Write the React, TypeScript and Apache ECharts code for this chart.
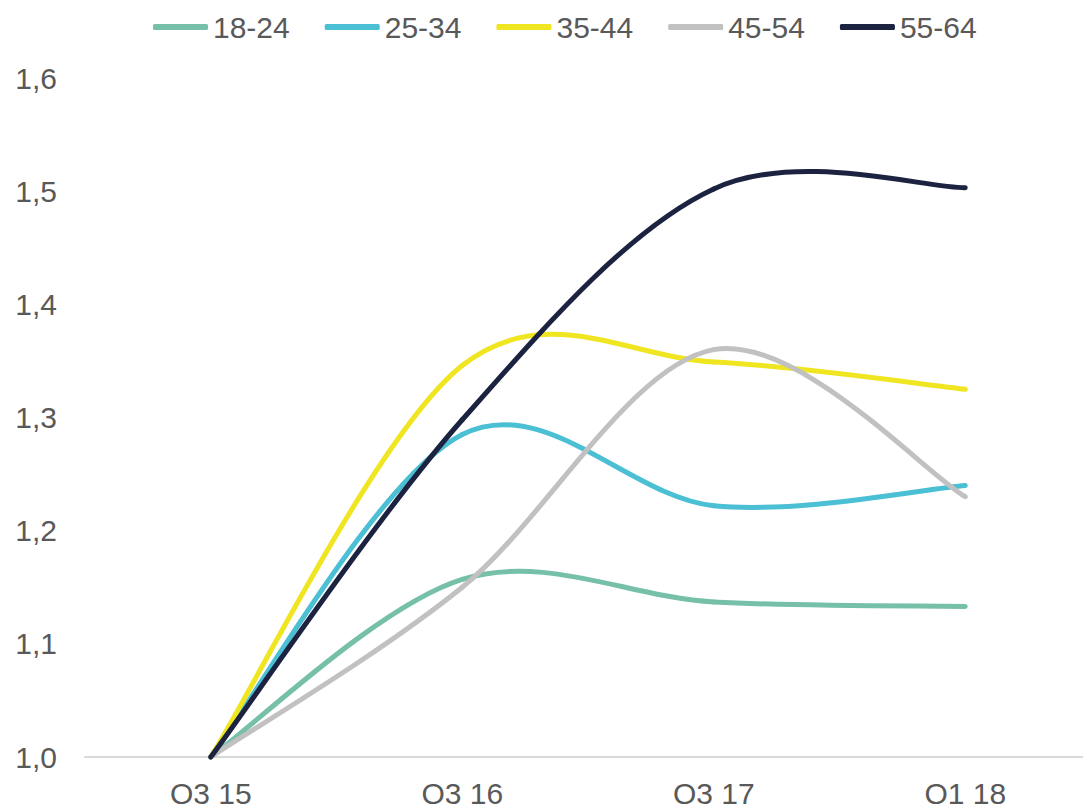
import React, { useEffect, useRef } from "react";
import * as echarts from "echarts";

const categories = ["Q3 15", "Q3 16", "Q3 17", "Q1 18"];
const seriesNames = ["18-24", "25-34", "35-44", "45-54", "55-64"];
const s1824 = [1.0, 1.157, 1.137, 1.133];
const s2534 = [1.0, 1.285, 1.222, 1.24];
const s3544 = [1.0, 1.346, 1.349, 1.325];
const s4554 = [1.0, 1.15, 1.36, 1.23];
const s5564 = [1.0, 1.298, 1.502, 1.503];
const colors = ["#76c0a9", "#4bbfd3", "#f0e521", "#c0c1c0", "#1c2340"];

export default function App() {
  const ref = useRef<HTMLDivElement>(null);
  useEffect(() => {
    if (!ref.current) return;
    const chart = echarts.init(ref.current, undefined, { renderer: "svg" });
    const data = [s1824, s2534, s3544, s4554, s5564];
    const font = "'Liberation Sans', Arial, sans-serif";
    const makeRender = (si: number) => (params: any, api: any) => {
      const arr = data[si];
      const i = api.value(0) as number;
      const n = arr.length;
      if (i >= n - 1) return { type: "group", children: [] };
      const pts = arr.map((v, j) => api.coord([j, v]) as number[]);
      const p0 = pts[Math.max(i - 1, 0)];
      const p1 = pts[i];
      const p2 = pts[i + 1];
      const p3 = pts[Math.min(i + 2, n - 1)];
      const k = 1 / 6;
      return {
        type: "bezierCurve",
        shape: {
          x1: p1[0],
          y1: p1[1],
          cpx1: p1[0] + (p2[0] - p0[0]) * k,
          cpy1: p1[1] + (p2[1] - p0[1]) * k,
          cpx2: p2[0] - (p3[0] - p1[0]) * k,
          cpy2: p2[1] - (p3[1] - p1[1]) * k,
          x2: p2[0],
          y2: p2[1],
        },
        style: { stroke: colors[si], lineWidth: 5, fill: "none", lineCap: "round" },
      };
    };
    chart.setOption({
      animation: false,
      textStyle: { fontFamily: font },
      legend: {
        left: 148,
        top: 7,
        icon: "roundRect",
        itemWidth: 55,
        itemHeight: 6,
        itemGap: 35,
        textStyle: { fontSize: 30, color: "#595959", fontFamily: font },
        data: seriesNames.map((name, i) => ({ name, itemStyle: { color: colors[i] } })),
      },
      grid: { left: 85, right: -7, top: 78, bottom: 55, containLabel: false },
      xAxis: {
        type: "category",
        data: categories,
        boundaryGap: true,
        axisLine: { show: true, lineStyle: { color: "#d9d9d9", width: 2 } },
        axisTick: { show: false },
        axisLabel: { fontSize: 30, color: "#595959", margin: 21, fontFamily: font },
        splitLine: { show: false },
      },
      yAxis: {
        type: "value",
        min: 1.0,
        max: 1.6,
        interval: 0.1,
        axisLine: { show: false },
        axisTick: { show: false },
        splitLine: { show: false },
        axisLabel: {
          fontSize: 30,
          color: "#595959",
          margin: 28,
          fontFamily: font,
          formatter: (v: number) => v.toFixed(1).replace(".", ","),
        },
      },
      series: seriesNames.map((name, i) => ({
        name,
        type: "custom",
        data: data[i].map((v, j) => [j, v]),
        encode: { x: 0, y: 1 },
        renderItem: makeRender(i),
        itemStyle: { color: colors[i] },
        clip: false,
      })),
    });
    return () => chart.dispose();
  }, []);
  return <div ref={ref} style={{ width: 1091, height: 812, margin: -8 }} />;
}
